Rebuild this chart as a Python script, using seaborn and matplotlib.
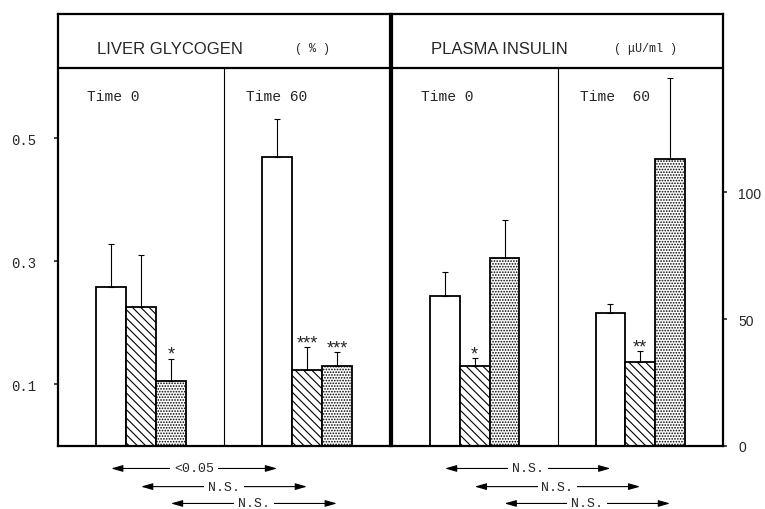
import numpy as np
import pandas as pd
import seaborn as sns
import matplotlib.pyplot as plt

# values (order: Time 0 -> 3 groups, Time 60 -> 3 groups)
times = ['Time 0', 'Time 60']
groups = ['Control', 'Group B', 'Group C']
glycogen_mean = [0.259, 0.226, 0.106, 0.470, 0.124, 0.130]
glycogen_sem = [0.070, 0.085, 0.036, 0.062, 0.037, 0.023]
glycogen_stars = ['', '', '*', '', '***', '***']
insulin_mean = [59.1, 31.5, 74.0, 52.4, 33.1, 113.0]
insulin_sem = [9.4, 3.1, 15.0, 3.5, 4.3, 31.9]
insulin_stars = ['', '*', '', '', '**', '']
glycogen_compare = ['<0.05', 'N.S.', 'N.S.']
insulin_compare = ['N.S.', 'N.S.', 'N.S.']

sns.set_style('white')
plt.rcParams['hatch.linewidth'] = 0.8
plt.rcParams['font.family'] = ['Liberation Sans', 'DejaVu Sans']
mono = ['Liberation Mono', 'DejaVu Sans Mono']

hatches = ['', '\\\\\\\\', '......']


def make_df(means, sems, stars):
    return pd.DataFrame({
        'Time': np.repeat(times, 3),
        'Group': groups * 2,
        'Mean': means,
        'SEM': sems,
        'Star': stars,
    })


fig = plt.figure(figsize=(7.65, 5.1), dpi=100)
ax1 = fig.add_axes([58 / 765, 63 / 510, 332 / 765, 432 / 510])
ax2 = fig.add_axes([392 / 765, 63 / 510, 331 / 765, 432 / 510])

panels = [
    (ax1, make_df(glycogen_mean, glycogen_sem, glycogen_stars), 0.7024, 0.615,
     'LIVER GLYCOGEN', '( % )', glycogen_compare),
    (ax2, make_df(insulin_mean, insulin_sem, insulin_stars), 170.1, 148.8,
     'PLASMA INSULIN', '( \u03bcU/ml )', insulin_compare),
]

for ax, df, ytop, yhead, title, unit, compare in panels:
    sns.barplot(data=df, x='Time', y='Mean', hue='Group', hue_order=groups,
                palette=['white'] * 3, edgecolor='black', linewidth=1.3,
                width=0.54, errorbar=None, legend=False, ax=ax)
    bar_conts = list(ax.containers)
    for cont, h in zip(bar_conts, hatches):
        for bar in cont:
            bar.set_hatch(h)

    # error bars (upper only) and stars
    for gi, cont in enumerate(bar_conts):
        for ti, bar in enumerate(cont):
            row = df[(df['Group'] == groups[gi]) & (df['Time'] == times[ti])].iloc[0]
            cx = bar.get_x() + bar.get_width() / 2
            ax.errorbar(cx, row['Mean'], yerr=[[0], [row['SEM']]], fmt='none',
                        ecolor='black', elinewidth=0.8, capsize=2, capthick=0.8)
            if row['Star']:
                ax.annotate(row['Star'], (cx, row['Mean'] + row['SEM']),
                            xytext=(0, -3), textcoords='offset points',
                            ha='center', va='bottom', fontsize=13)

    ax.set_xlim(-0.5, 1.5)
    ax.set_ylim(0, ytop)
    ax.set_xlabel('')
    ax.set_ylabel('')
    ax.set_xticks([])
    for sp in ax.spines.values():
        sp.set_visible(True)
        sp.set_linewidth(1.6)
        sp.set_color('black')

    # header box line and Time 0 / Time 60 divider
    ax.axhline(yhead, color='black', lw=1.6)
    ax.axvline(0.5, ymax=yhead / ytop, color='black', lw=0.8)
    ax.text(0.117, 0.919, title, transform=ax.transAxes,
            fontsize=12, va='center', ha='left')
    ax.text(0.767, 0.922, unit, transform=ax.transAxes, family=mono,
            fontsize=8.5, va='center', ha='center')
    ax.text(0.087, 0.81, 'Time 0', transform=ax.transAxes, family=mono,
            fontsize=10.5, va='center', ha='left')
    ax.text(0.567, 0.81, 'Time 60' if ax is ax1 else 'Time  60',
            transform=ax.transAxes, family=mono, fontsize=10.5,
            va='center', ha='left')

    # comparison arrows under the panel
    rows = [-0.052, -0.094, -0.133]
    tr = ax.get_xaxis_transform()
    for gi, (lab, yy) in enumerate(zip(compare, rows)):
        b0, b1 = bar_conts[gi][0], bar_conts[gi][1]
        x0 = b0.get_x() + b0.get_width() / 2
        x1 = b1.get_x() + b1.get_width() / 2
        ax.annotate('', xy=(x0, yy), xytext=(x1, yy), xycoords=tr, textcoords=tr,
                    arrowprops=dict(arrowstyle='<|-|>,head_length=0.7,head_width=0.2',
                                    color='black', lw=0.8, shrinkA=0, shrinkB=0),
                    annotation_clip=False)
        ax.text((x0 + x1) / 2, yy, lab, transform=tr, family=mono, fontsize=9.5,
                ha='center', va='center', clip_on=False,
                bbox=dict(boxstyle='square,pad=0.3', fc='white', ec='none'))

# axis ticks
ax1.set_yticks([0.1, 0.3, 0.5])
ax1.set_yticklabels(['0.1', '0.3', '0.5'], family=mono, fontsize=10)
ax1.tick_params(axis='y', left=True, right=False, length=3, width=1.2, pad=13)

ax2.yaxis.tick_right()
ax2.set_yticks([0, 50, 100])
ax2.set_yticklabels(['0', '50', '100'], fontsize=10)
ax2.tick_params(axis='y', right=True, left=False, length=3, width=1.2, pad=8)

fig.savefig('out.png', dpi=100, facecolor='white')
